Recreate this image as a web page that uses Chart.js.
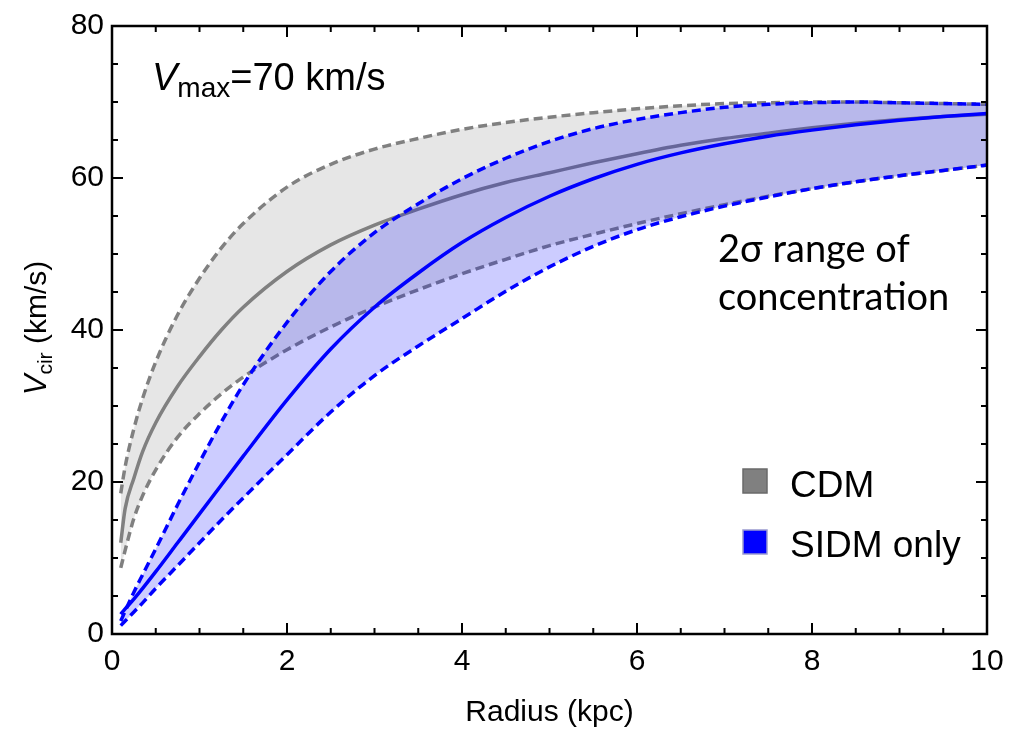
<!DOCTYPE html>
<html>
<head>
<meta charset="utf-8">
<script src="https://cdn.jsdelivr.net/npm/chart.js@4.4.1/dist/chart.umd.min.js"></script>
<style>
  html, body { margin: 0; padding: 0; background: #fff; }
</style>
</head>
<body>
<canvas id="chart" width="1021" height="735"></canvas>
<script>
// radius grid (kpc) shared by every curve
const radius = [0.1, 0.15, 0.25, 0.35, 0.5, 0.75, 1, 1.25, 1.5, 2, 2.5, 3, 3.5, 4, 4.5, 5, 5.5, 6, 6.5, 7, 7.5, 8, 8.5, 9, 9.5, 10];

// CDM: median and 2 sigma band (km/s)
const cdmMid = [12, 16.5, 20.5, 24, 27.8, 32.6, 36.5, 40, 43, 47.7, 51.2, 53.8, 55.9, 57.8, 59.4, 60.7, 62, 63.2, 64.3, 65.2, 65.9, 66.6, 67.2, 67.7, 68.1, 68.4];
const cdmHi  = [18.5, 22, 27, 31, 35.8, 42, 46.8, 50.8, 54, 58.8, 61.8, 63.8, 65.2, 66.4, 67.3, 68, 68.6, 69.1, 69.5, 69.8, 69.9, 70, 70, 69.9, 69.8, 69.7];
const cdmLo  = [8.7, 11, 15.2, 18.2, 21.6, 25.9, 29, 31.6, 33.8, 37.4, 40.4, 43, 45.3, 47.4, 49.3, 51.1, 52.6, 54, 55.3, 56.5, 57.6, 58.6, 59.5, 60.3, 61, 61.7];

// SIDM only: median and 2 sigma band (km/s)
const sidmMid = [2.6, 3.3, 4.6, 6, 8.2, 12, 15.8, 19.6, 23.4, 30.8, 37.5, 43, 47.5, 51.5, 54.8, 57.6, 59.9, 61.8, 63.3, 64.5, 65.5, 66.3, 67, 67.6, 68.1, 68.5];
const sidmHi  = [1.7, 3, 5.5, 7.8, 11.2, 17, 22.6, 27.9, 32.8, 41, 47.7, 52.8, 56.6, 59.9, 62.6, 64.8, 66.5, 67.7, 68.6, 69.3, 69.7, 69.9, 70, 69.9, 69.8, 69.7];
const sidmLo  = [1.1, 1.7, 2.9, 4.1, 6, 9, 12, 15, 17.9, 23.6, 29.2, 34, 37.9, 41.5, 45.1, 48.3, 51, 53.2, 54.9, 56.3, 57.5, 58.6, 59.5, 60.3, 61, 61.7];

const xTicks = [0, 2, 4, 6, 8, 10];
const yTicks = [0, 20, 40, 60, 80];

const gray = "#808080";
const blue = "#0000ff";
const sans = "'Liberation Sans', Arial, sans-serif";

function pts(vals) {
    return radius.map((r, i) => ({ x: r, y: vals[i] }));
}

function line(label, vals, color, dashed, order, fillColor) {
    return {
        label: label,
        data: pts(vals),
        borderColor: color,
        borderWidth: 3.5,
        borderDash: dashed ? [9, 5] : [],
        pointRadius: 0,
        cubicInterpolationMode: "monotone",
        fill: fillColor ? "-1" : false,
        backgroundColor: fillColor || "transparent",
        order: order
    };
}

// box frame, inward ticks on all four sides, annotations and legend
const frame = {
    id: "frame",
    afterDraw(chart) {
        const ctx = chart.ctx;
        const a = chart.chartArea;
        const x = chart.scales.x;
        const y = chart.scales.y;

        ctx.save();
        ctx.strokeStyle = "#000";
        ctx.lineWidth = 2;
        ctx.beginPath();
        for (let i = 0; i <= 20; i++) {
            const px = x.getPixelForValue(i * 0.5);
            const len = i % 4 === 0 ? 11 : 6;
            ctx.moveTo(px, a.bottom); ctx.lineTo(px, a.bottom - len);
            ctx.moveTo(px, a.top); ctx.lineTo(px, a.top + len);
        }
        for (let i = 0; i <= 16; i++) {
            const py = y.getPixelForValue(i * 5);
            const len = i % 4 === 0 ? 11 : 6;
            ctx.moveTo(a.left, py); ctx.lineTo(a.left + len, py);
            ctx.moveTo(a.right, py); ctx.lineTo(a.right - len, py);
        }
        ctx.stroke();
        ctx.lineWidth = 2.5;
        ctx.strokeRect(a.left, a.top, a.right - a.left, a.bottom - a.top);

        ctx.fillStyle = "#000";
        ctx.textBaseline = "alphabetic";
        ctx.textAlign = "left";

        // V_max=70 km/s
        let cx = 152;
        ctx.font = "italic 38px " + sans;
        ctx.fillText("V", cx, 90);
        cx += ctx.measureText("V").width;
        ctx.font = "28px " + sans;
        ctx.fillText("max", cx, 97);
        cx += ctx.measureText("max").width;
        ctx.font = "38px " + sans;
        ctx.fillText("=70 km/s", cx, 90);

        // band note
        ctx.font = "38px Lato, 'Open Sans', sans-serif";
        ctx.fillText("2σ range of", 718, 262);
        ctx.fillText("concentration", 718, 310);

        // legend
        ctx.lineWidth = 1.5;
        ctx.fillStyle = gray;
        ctx.strokeStyle = "#6a6a6a";
        ctx.fillRect(743, 469, 24, 24);
        ctx.strokeRect(743, 469, 24, 24);
        ctx.fillStyle = blue;
        ctx.strokeStyle = "#9a9ad0";
        ctx.fillRect(743, 530, 24, 24);
        ctx.strokeRect(743, 530, 24, 24);
        ctx.fillStyle = "#000";
        ctx.font = "37px " + sans;
        ctx.fillText("CDM", 790, 497);
        ctx.fillText("SIDM only", 790, 557);

        // x title
        ctx.font = "30px " + sans;
        ctx.textAlign = "center";
        ctx.fillText("Radius (kpc)", (a.left + a.right) / 2, 721);

        // y title, rotated
        ctx.translate(46, (a.top + a.bottom) / 2 - 2);
        ctx.rotate(-Math.PI / 2);
        ctx.textAlign = "left";
        ctx.font = "italic 31px " + sans;
        const w1 = ctx.measureText("V").width;
        ctx.font = "21px " + sans;
        const w2 = ctx.measureText("cir").width;
        ctx.font = "30px " + sans;
        const w3 = ctx.measureText(" (km/s)").width;
        let tx = -(w1 + w2 + w3) / 2;
        ctx.font = "italic 31px " + sans;
        ctx.fillText("V", tx, 0);
        tx += w1;
        ctx.font = "21px " + sans;
        ctx.fillText("cir", tx, 6);
        tx += w2;
        ctx.font = "30px " + sans;
        ctx.fillText(" (km/s)", tx, 0);

        ctx.restore();
    }
};

new Chart(document.getElementById("chart"), {
    type: "line",
    data: {
        datasets: [
            line("CDM low", cdmLo, gray, true, 6),
            line("CDM high", cdmHi, gray, true, 5, "rgba(128,128,128,0.2)"),
            line("CDM", cdmMid, gray, false, 4),
            line("SIDM low", sidmLo, blue, true, 3),
            line("SIDM high", sidmHi, blue, true, 2, "rgba(0,0,255,0.2)"),
            line("SIDM only", sidmMid, blue, false, 1)
        ]
    },
    options: {
        responsive: false,
        animation: false,
        devicePixelRatio: 1,
        layout: { padding: { left: 0, right: 34, top: 21, bottom: 0 } },
        plugins: {
            legend: { display: false },
            tooltip: { enabled: false }
        },
        scales: {
            x: {
                type: "linear",
                min: 0,
                max: 10,
                afterBuildTicks(s) { s.ticks = xTicks.map(v => ({ value: v })); },
                afterFit(s) { s.height = 101; },
                ticks: { color: "#000", font: { family: sans, size: 30 }, padding: 10, maxRotation: 0 },
                grid: { display: false, drawTicks: false },
                border: { display: false }
            },
            y: {
                type: "linear",
                min: 0,
                max: 80,
                afterBuildTicks(s) { s.ticks = yTicks.map(v => ({ value: v })); },
                afterFit(s) { s.width = 112; },
                ticks: { color: "#000", font: { family: sans, size: 30 }, padding: 8 },
                grid: { display: false, drawTicks: false },
                border: { display: false }
            }
        }
    },
    plugins: [frame]
});
</script>
</body>
</html>
